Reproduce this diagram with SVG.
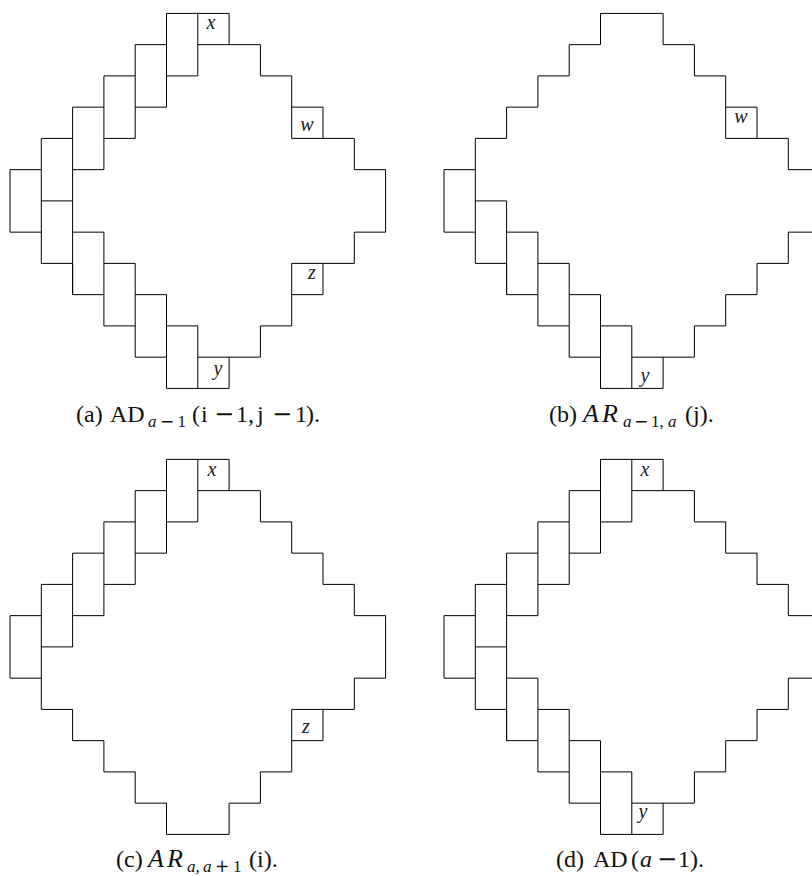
<svg xmlns="http://www.w3.org/2000/svg" width="812" height="876" viewBox="0 0 812 876">
<style>
.g{fill:none;stroke:#000;stroke-width:1;vector-effect:non-scaling-stroke}
.m{font-family:"Liberation Serif",serif;font-style:italic;font-size:20px;text-anchor:middle;fill:#222}
.c{font-family:"Liberation Serif",serif;font-size:24px;fill:#111}
.s{font-size:17px}
.a{font-style:italic}
.k{font-style:italic;font-size:26px}
.n{font-family:"DejaVu Sans",sans-serif}
</style>
<defs>
<path id="out" class="g" d="M5 0H7V1H8V2H9V3H10V4H11V5H12V7H11V8H10V9H9V10H8V11H7V12H5V11H4V10H3V9H2V8H1V7H0V5H1V4H2V3H3V2H4V1H5ZM1 5V7"/>
<path id="mid" class="g" d="M1 6H2"/>
<path id="top" class="g" d="M6 1H7M6 0V2H5M5 1V3H4M4 2V4H3M3 3V5H2M2 4V6"/>
<path id="bot" class="g" d="M6 11H7M2 6V9M2 7H3V9M3 8H4V10M4 9H5V11M5 10H6V12"/>
<path id="w" class="g" d="M10 4H9V3"/>
<path id="z" class="g" d="M9 9V8H10"/>
</defs>
<g id="panel-a">
<g transform="translate(10 13.4) scale(31.3 31.25)"><use href="#out"/><use href="#mid"/><use href="#top"/><use href="#bot"/><use href="#w"/><use href="#z"/></g>
<text class="m" x="211" y="29">x</text><text class="m" x="307" y="131">w</text><text class="m" x="312" y="279">z</text><text class="m" x="218" y="375">y</text>
<text class="c" y="422"><tspan x="76">(a)</tspan> <tspan x="110">AD</tspan><tspan class="s" y="427" x="148"><tspan class="a">a</tspan></tspan><tspan class="s n" y="427" x="160">−</tspan><tspan class="s" y="427" x="177.5">1</tspan><tspan x="192" y="422">(</tspan><tspan x="201">i</tspan><tspan class="n" x="214">−</tspan><tspan x="236">1,</tspan> <tspan x="257">j</tspan><tspan class="n" x="272">−</tspan><tspan x="295">1</tspan><tspan x="306">).</tspan></text>
</g>
<g id="panel-b">
<g transform="translate(444 13.4) scale(31.3 31.25)"><use href="#out"/><use href="#mid"/><use href="#bot"/><use href="#w"/></g>
<text class="m" x="741" y="123">w</text><text class="m" x="645" y="382">y</text>
<text class="c" y="422"><tspan x="549">(b)</tspan> <tspan class="k" x="583">A</tspan><tspan class="k" x="602">R</tspan><tspan class="s a" y="427" x="623">a</tspan><tspan class="s n" y="427" x="634">−</tspan><tspan class="s" y="427" x="651">1,</tspan><tspan class="s a" y="427" x="668">a</tspan><tspan x="685" y="422">(j).</tspan></text>
</g>
<g id="panel-c">
<g transform="translate(10 459.4) scale(31.3 31.25)"><use href="#out"/><use href="#mid"/><use href="#top"/><use href="#z"/></g>
<text class="m" x="212" y="476">x</text><text class="m" x="306" y="733">z</text>
<text class="c" y="867"><tspan x="116">(c)</tspan> <tspan class="k" x="148">A</tspan><tspan class="k" x="167">R</tspan><tspan class="s a" y="872" x="187">a,</tspan><tspan class="s a" y="872" x="203">a</tspan><tspan class="s n" y="872" x="215">+</tspan><tspan class="s" y="872" x="233">1</tspan><tspan x="249" y="867">(i).</tspan></text>
</g>
<g id="panel-d">
<g transform="translate(444 459.4) scale(31.3 31.25)"><use href="#out"/><use href="#mid"/><use href="#top"/><use href="#bot"/></g>
<text class="m" x="645" y="476">x</text><text class="m" x="643" y="818">y</text>
<text class="c" y="867"><tspan x="556">(d)</tspan> <tspan x="593">AD</tspan><tspan x="631">(</tspan><tspan class="a" x="640">a</tspan><tspan class="n" x="657">−</tspan><tspan x="678">1</tspan><tspan x="690">).</tspan></text>
</g>
</svg>
